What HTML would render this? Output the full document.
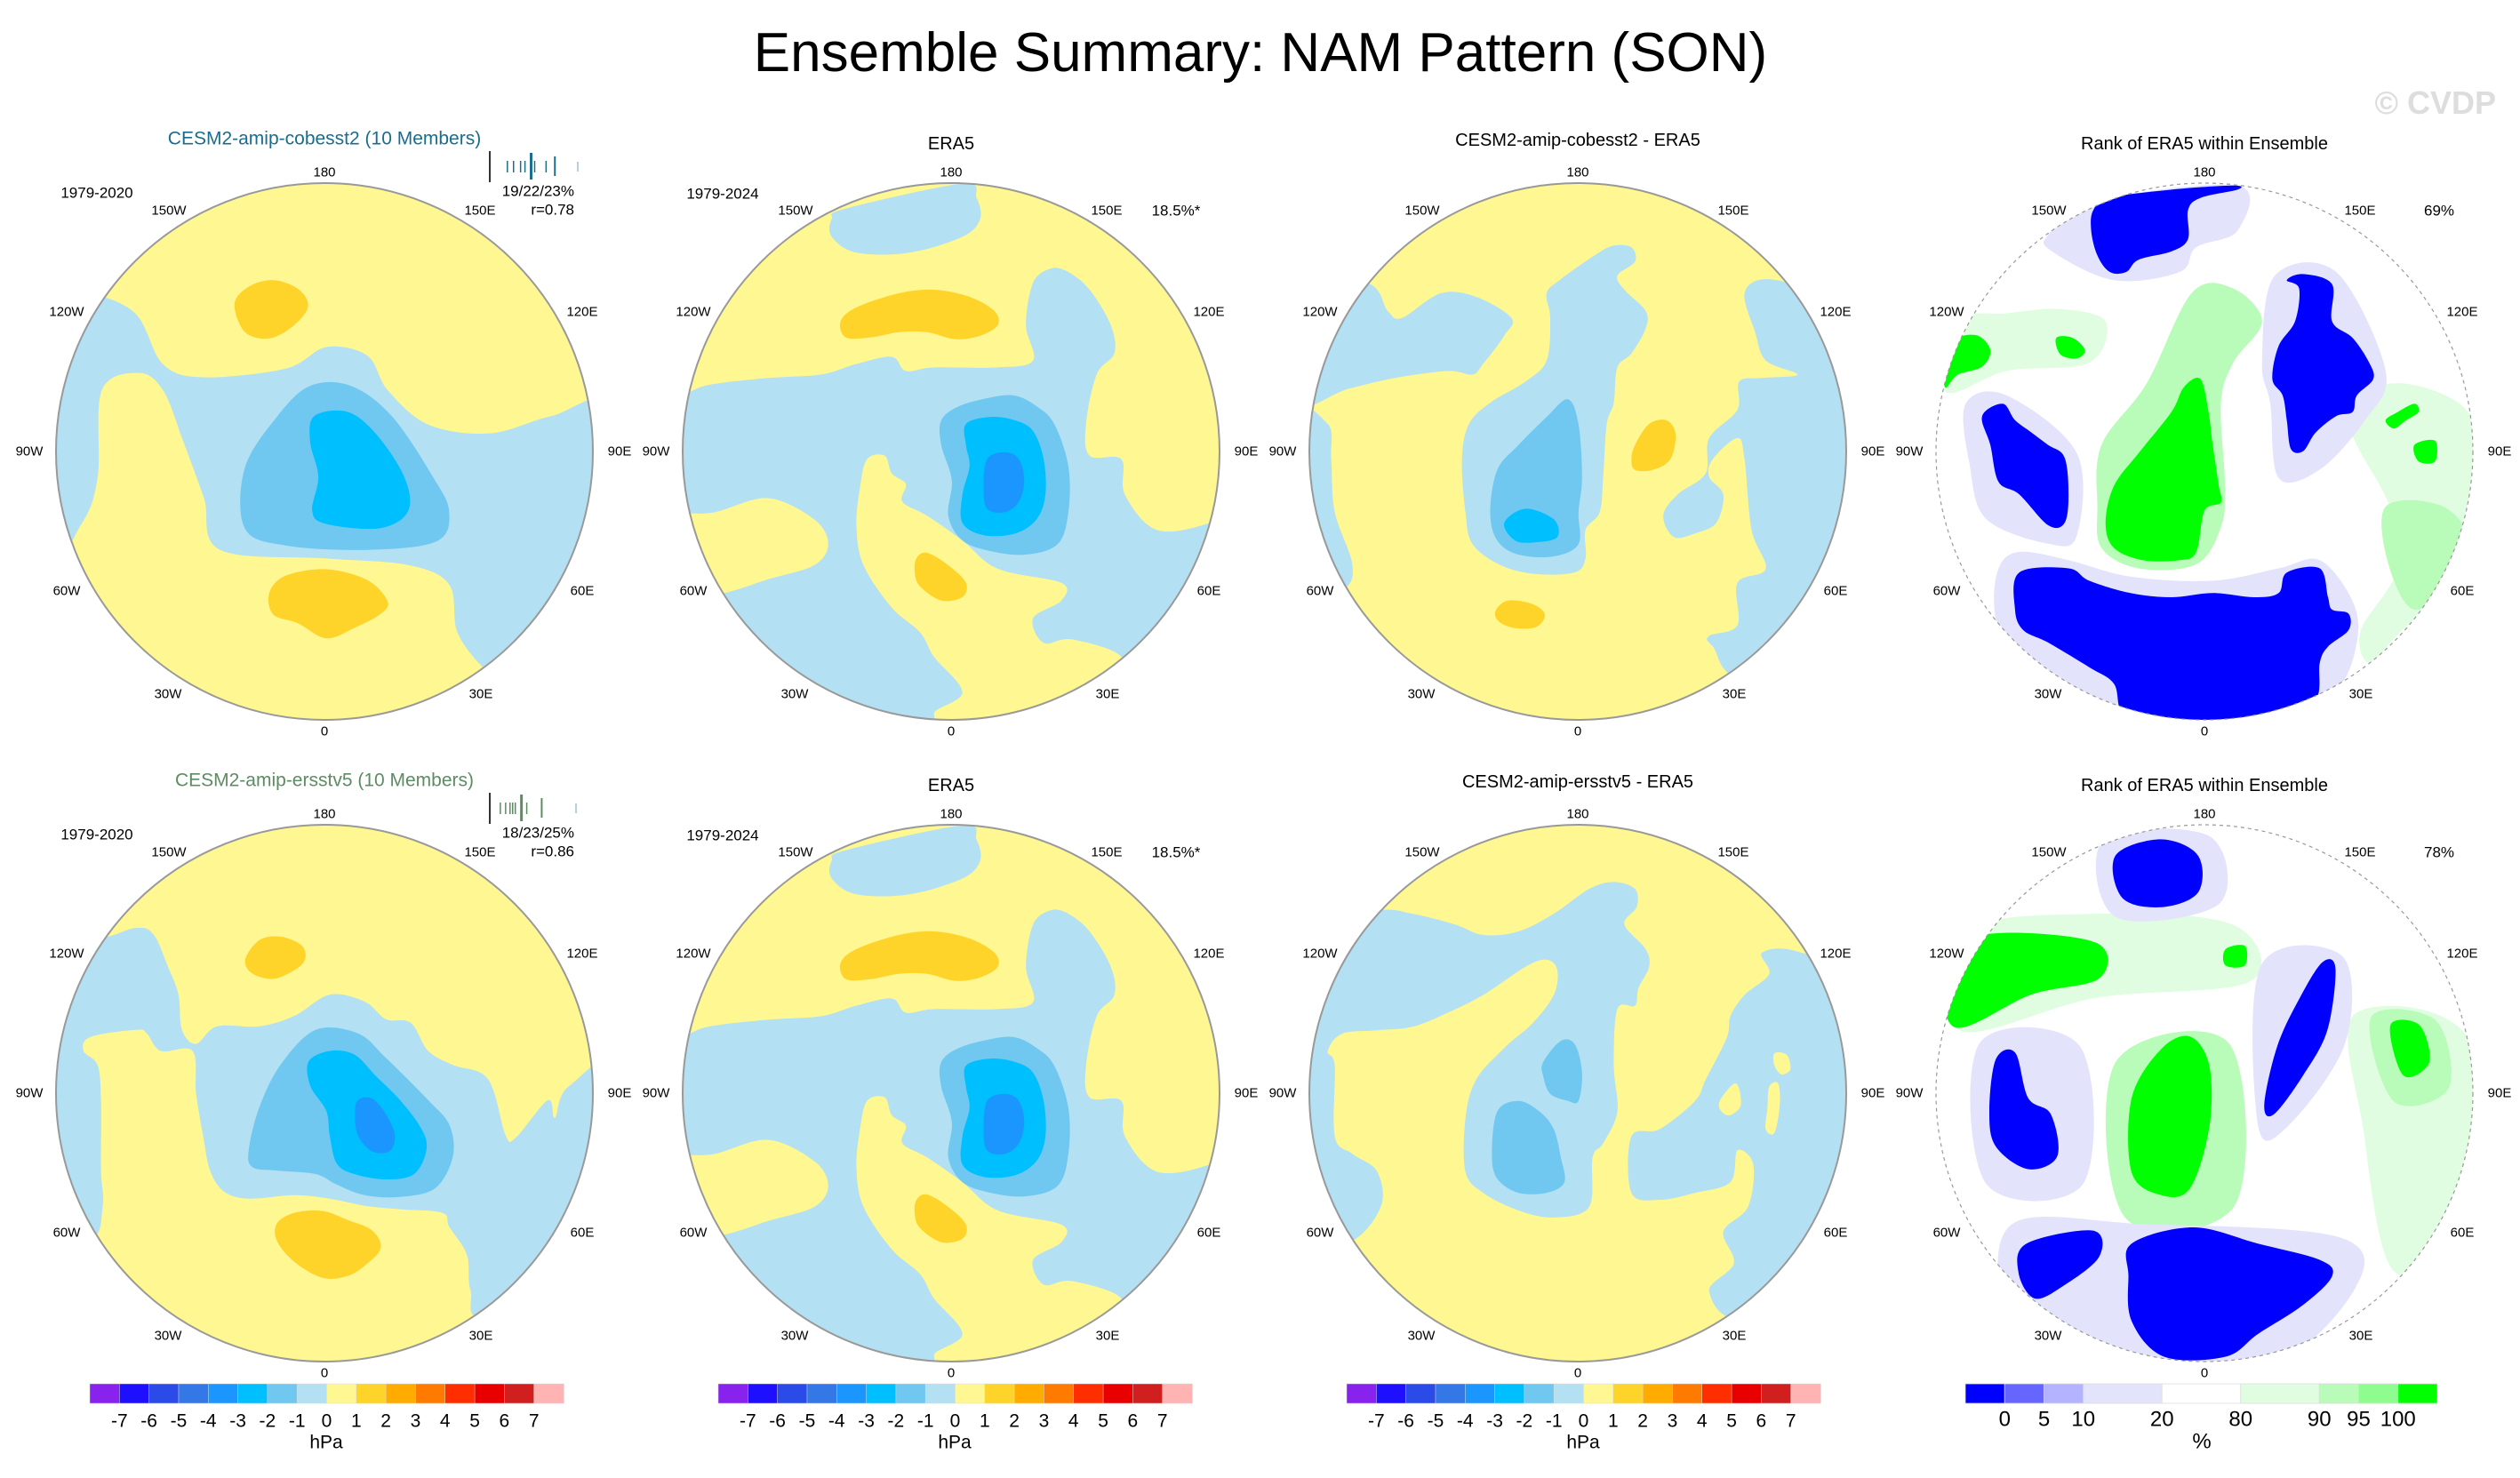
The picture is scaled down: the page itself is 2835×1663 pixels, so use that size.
<!DOCTYPE html>
<html><head><meta charset="utf-8">
<style>
html,body{margin:0;padding:0;background:#fff;}
svg{display:block;font-family:"Liberation Sans",Arial,sans-serif;}
</style></head>
<body>
<svg id="fig" width="2835" height="1663" viewBox="0 0 2835 1663" xmlns="http://www.w3.org/2000/svg">
<text x="1418" y="80" text-anchor="middle" font-size="62" fill="#000">Ensemble Summary: NAM Pattern (SON)</text>
<text x="2808" y="128" text-anchor="end" font-size="36" fill="#dddddd" font-weight="bold">© CVDP</text>
</svg>
<script>
// ---- colorbar data ----
const namLevels = [-7,-6,-5,-4,-3,-2,-1,0,1,2,3,4,5,6,7];
const namColors = ['#8a22ee','#1e0fff','#2b4be8','#3478e8','#1c96ff','#00bfff','#70c8f0','#b3e0f3','#fff791','#ffd42a','#ffab00','#ff7a00','#ff2e00','#e80000','#d11e1e','#ffb3b3'];
const rankLevels = [0,5,10,20,80,90,95,100];
const rankColors = ['#0000ff','#6666ff','#b3b3ff','#e3e3fb','#ffffff','#e1fde1','#b9fbb9','#8ffc8f','#00ff00'];
const rankWidths = [1,1,1,2,2,2,1,1,1];
// ---- member spread ticks (relative position 0..1 on spread axis) ----
const members1 = [0.20,0.27,0.35,0.40,0.51,0.64];
const members2 = [0.12,0.18,0.23,0.26,0.29,0.42];
const obs1 = 0.0, mean1 = 0.47, tall1 = 0.74, far1 = 1.0;
const obs2 = 0.0, mean2 = 0.36, tall2 = 0.59, far2 = 0.98;

const NS='http://www.w3.org/2000/svg';
const svg=document.getElementById('fig');
function el(tag,attrs,parent){const e=document.createElementNS(NS,tag);for(const k in attrs)e.setAttribute(k,attrs[k]);(parent||svg).appendChild(e);return e;}
function txt(str,x,y,size,anchor,fill,parent){const t=el('text',{x:x,y:y,'font-size':size,'text-anchor':anchor||'middle',fill:fill||'#000','dominant-baseline':'central'},parent);t.textContent=str;return t;}

const R=302;
const colX=[365,1070,1775,2480];
const rowY=[508,1230];

function smooth(pts){
  const n=pts.length;let d='M'+pts[0][0].toFixed(1)+','+pts[0][1].toFixed(1);
  for(let i=0;i<n;i++){const p0=pts[(i-1+n)%n],p1=pts[i],p2=pts[(i+1)%n],p3=pts[(i+2)%n];
    const c1=[p1[0]+(p2[0]-p0[0])/6,p1[1]+(p2[1]-p0[1])/6],c2=[p2[0]-(p3[0]-p1[0])/6,p2[1]-(p3[1]-p1[1])/6];
    d+='C'+c1[0].toFixed(1)+','+c1[1].toFixed(1)+' '+c2[0].toFixed(1)+','+c2[1].toFixed(1)+' '+p2[0].toFixed(1)+','+p2[1].toFixed(1);}
  return d+'Z';
}
const LB='#b3e0f3',MB='#70c8f0',BB='#00bfff',DB='#1c96ff',YL='#fff791',OR='#ffd42a';
const LV='#e3e3fb',G1='#e1fde1',G2='#b9fbb9',G3='#00ff00',BL='#0000ff';

const era5={ref:{cx:768,cy:778,rx:760,ry:760},bg:LB,layers:[
 [YL,[[-100,620],[0,620],[80,590],[250,570],[400,560],[500,530],[600,510],[640,550],[720,540],[900,540],[1000,520],[980,420],[1000,300],[1050,260],[1100,270],[1160,320],[1220,420],[1230,500],[1180,560],[1150,700],[1160,790],[1250,800],[1260,900],[1350,1000],[1500,980],[1650,900],[1650,-100],[-100,-100]]],
 [YL,[[-50,980],[100,950],[250,910],[380,970],[420,1040],[380,1100],[250,1140],[120,1180],[-50,1200]]],
 [YL,[[530,800],[580,790],[600,840],[640,870],[630,920],[700,960],[800,1030],[900,1110],[1080,1150],[1080,1200],[1000,1250],[1030,1320],[1110,1310],[1250,1360],[1200,1450],[800,1560],[720,1520],[800,1460],[720,1360],[680,1290],[600,1220],[520,1100],[500,990],[510,880]]],
 [LB,[[430,120],[470,90],[800,20],[840,60],[850,120],[800,170],[650,215],[500,215],[430,170]]],
 [OR,[[455,410],[500,370],[620,330],[720,320],[820,340],[890,380],[900,420],[850,450],[780,460],[700,440],[620,440],[540,455],[470,455]]],
 [OR,[[670,1080],[700,1065],[760,1100],[810,1150],[800,1190],[740,1200],[680,1160],[665,1120]]],
 [MB,[[740,690],[790,650],[880,625],[950,620],[1010,650],[1060,700],[1100,820],[1100,950],[1070,1040],[980,1070],[880,1060],[800,1030],[760,960],[770,860],[740,760]]],
 [BB,[[810,700],[880,680],[950,690],[1000,720],[1030,800],[1035,900],[1010,970],[950,1010],[860,1015],[800,980],[800,900],[820,820],[810,760]]],
 [DB,[[870,800],[920,780],[960,800],[975,860],[960,920],[920,950],[870,940],[860,880]]]
]};

const panels=[
 {c:0,r:0,name:'cobesst2-ensemble-map',ref:{cx:795,cy:842,rx:657,ry:622},bg:YL,layers:[
  [LB,[[200,470],[330,520],[400,640],[500,670],[700,650],[800,600],[900,620],[950,700],[1050,780],[1200,800],[1350,760],[1500,740],[1500,1100],[1250,1400],[1180,1340],[1120,1260],[1100,1150],[1000,1105],[800,1090],[540,1070],[500,950],[450,820],[400,700],[340,660],[250,700],[240,900],[200,1010],[100,1100],[100,470]]],
  [MB,[[600,880],[680,760],[760,690],[860,690],[960,760],[1060,900],[1100,980],[1070,1050],[900,1070],[700,1060],[600,1020]]],
  [BB,[[770,760],[850,750],[920,800],[990,900],[1000,980],[930,1020],[800,1010],[765,980],[780,900],[760,820]]],
  [OR,[[575,500],[610,460],[670,445],[730,465],[755,505],[720,550],[660,580],[600,565]]],
  [OR,[[660,1170],[700,1130],[800,1115],[900,1140],[950,1190],[930,1220],[870,1250],[800,1275],[730,1240],[670,1220]]]
 ]},
 {c:1,r:0,name:'era5-map-top',data:era5},
 {c:2,r:0,name:'cobesst2-minus-era5-map',ref:{cx:768,cy:778,rx:760,ry:760},bg:YL,layers:[
  [LB,[[-50,300],[170,300],[230,380],[270,400],[380,330],[480,340],[580,400],[560,450],[500,530],[470,560],[400,550],[250,570],[120,600],[-50,640]]],
  [LB,[[680,330],[720,290],[820,220],[870,195],[920,200],[930,240],[880,280],[900,320],[960,380],[960,430],[920,500],[880,540],[870,640],[850,700],[840,850],[830,950],[790,1000],[790,1080],[760,1120],[650,1125],[550,1100],[470,1040],[450,950],[440,800],[460,700],[520,640],[620,580],[680,520],[690,400]]],
  [LB,[[-50,680],[60,700],[70,800],[80,950],[130,1100],[100,1170],[-50,1200]]],
  [LB,[[1240,330],[1300,290],[1420,330],[1650,500],[1650,1300],[1250,1420],[1150,1330],[1140,1300],[1220,1270],[1220,1150],[1300,1110],[1260,1000],[1240,800],[1220,740],[1150,800],[1140,850],[1180,900],[1160,980],[1100,1010],[1040,1020],[1010,960],[1050,900],[1130,840],[1140,740],[1220,660],[1225,580],[1290,570],[1390,560],[1300,520],[1270,440]]],
  [MB,[[740,630],[770,700],[780,850],[770,950],[770,1040],[700,1075],[600,1070],[540,1030],[520,950],[540,830],[600,760],[680,680]]],
  [BB,[[560,980],[620,940],[700,970],[710,1020],[650,1035],[590,1030]]],
  [OR,[[930,760],[970,700],[1020,690],[1045,730],[1030,800],[980,830],[930,830],[920,800]]],
  [OR,[[535,1230],[570,1200],[640,1210],[675,1240],[650,1275],[590,1278],[545,1260]]]
 ]},
 {c:3,r:0,name:'rank-map-top',rank:true,ref:{cx:780,cy:816,rx:652,ry:652},bg:'#ffffff',layers:[
  [G1,[[1120,700],[1250,650],[1400,700],[1440,800],[1430,1000],[1360,1150],[1250,1260],[1180,1330],[1160,1250],[1250,1100],[1230,950],[1150,800]]],
  [G1,[[140,500],[300,480],[430,470],[540,500],[500,600],[300,620],[150,670]]],
  [G2,[[1220,950],[1360,950],[1420,1050],[1300,1200],[1230,1100]]],
  [G2,[[530,800],[640,650],[750,430],[850,420],[920,500],[850,600],[820,700],[830,900],[820,1000],[760,1090],[620,1100],[530,1050],[520,950]]],
  [LV,[[400,290],[500,210],[860,170],[860,280],[760,320],[720,380],[560,400],[410,330]]],
  [LV,[[950,390],[1100,380],[1220,620],[1170,740],[1060,860],[960,880],[940,700],[920,600]]],
  [LV,[[200,700],[300,680],[470,820],[470,1020],[400,1040],[250,980],[210,850]]],
  [LV,[[280,1100],[330,1060],[450,1080],[600,1120],[800,1130],[960,1100],[1060,1080],[1140,1180],[1150,1280],[1100,1400],[960,1500],[600,1490],[420,1420],[300,1300],[270,1200]]],
  [BL,[[510,230],[550,200],[700,180],[850,170],[860,180],[770,200],[740,230],[740,300],[700,330],[620,350],[590,380],[550,380],[520,340],[505,280]]],
  [BL,[[980,400],[1020,385],[1090,410],[1090,500],[1140,540],[1180,600],[1190,640],[1150,680],[1140,720],[1100,730],[1050,770],[1020,815],[990,810],[980,740],[970,680],[945,640],[960,560],[1000,500],[1010,420]]],
  [BL,[[240,730],[290,700],[320,740],[360,770],[400,800],[440,830],[450,920],[440,990],[400,995],[330,920],[280,890],[260,800]]],
  [BL,[[330,1110],[450,1100],[500,1130],[600,1160],[700,1170],[800,1160],[900,1170],[960,1160],[980,1110],[1060,1100],[1080,1170],[1090,1200],[1130,1210],[1130,1250],[1080,1290],[1060,1330],[1050,1420],[960,1470],[800,1485],[650,1475],[580,1450],[560,1380],[500,1340],[400,1280],[340,1250],[320,1200]]],
  [G3,[[540,990],[560,900],[620,820],[700,720],[730,660],[770,640],[790,720],[800,800],[815,900],[820,940],[780,960],[760,1060],[720,1080],[630,1080],[560,1050]]],
  [G3,[[150,580],[180,540],[230,535],[260,570],[240,610],[180,630],[150,660]]],
  [G3,[[420,540],[460,540],[490,570],[470,590],[430,580]]],
  [G3,[[1220,740],[1250,720],[1290,700],[1300,720],[1270,740],[1240,760]]],
  [G3,[[1290,800],[1340,790],[1340,840],[1300,840]]]
 ]},
 {c:0,r:1,name:'ersstv5-ensemble-map',ref:{cx:785,cy:780,rx:763,ry:763},bg:YL,layers:[
  [LB,[[130,340],[250,310],[300,330],[340,420],[370,500],[380,600],[420,640],[480,590],[600,590],[700,560],[800,500],[900,520],[960,570],[1030,580],[1080,660],[1150,700],[1250,740],[1300,900],[1330,905],[1420,800],[1440,850],[1480,760],[1650,700],[1650,1300],[1250,1420],[1200,1340],[1190,1240],[1140,1160],[1120,1120],[1000,1110],[900,1100],[800,1080],[700,1070],[570,1080],[500,1060],[460,1000],[440,900],[420,780],[410,660],[320,660],[280,610],[250,600],[120,620],[100,660],[140,700],[150,800],[150,1000],[155,1100],[120,1200],[-50,1200],[-50,300]]],
  [MB,[[570,940],[600,820],[660,700],[760,600],[880,610],[960,680],[1080,800],[1140,870],[1150,960],[1100,1050],[1000,1075],[900,1070],[820,1040],[760,1010],[650,1000],[580,990]]],
  [BB,[[740,690],[800,660],[870,670],[930,730],[1000,800],[1060,880],[1075,940],[1040,1010],[960,1025],[870,1010],[820,980],[800,900],[790,830],[745,760]]],
  [DB,[[880,800],[920,795],[960,840],[985,900],[970,945],[920,945],[880,900],[872,840]]],
  [OR,[[560,400],[600,345],[660,335],[720,360],[730,400],[700,430],[640,455],[580,440]]],
  [OR,[[650,1150],[700,1120],[780,1115],[850,1140],[920,1170],[945,1220],[900,1270],[850,1300],[780,1305],[700,1260],[650,1200]]]
 ]},
 {c:1,r:1,name:'era5-map-bottom',data:era5},
 {c:2,r:1,name:'ersstv5-minus-era5-map',ref:{cx:768,cy:778,rx:760,ry:760},bg:YL,layers:[
  [LB,[[-50,300],[200,260],[300,270],[420,300],[500,330],[600,320],[700,270],[800,200],[870,180],[930,200],[935,250],[900,300],[960,370],[970,420],[940,480],[930,530],[880,540],[870,700],[880,830],[840,920],[810,960],[800,1100],[700,1130],[600,1110],[500,1060],[450,1000],[450,850],[480,740],[560,650],[640,580],[700,500],[710,430],[680,400],[620,420],[500,500],[400,550],[300,590],[200,600],[100,610],[60,660],[80,700],[80,900],[130,950],[200,1000],[210,1100],[120,1200],[-50,1200]]],
  [LB,[[1290,380],[1400,380],[1650,500],[1650,1300],[1250,1420],[1140,1340],[1210,1260],[1180,1170],[1250,1100],[1265,980],[1220,940],[1200,1030],[1100,1060],[1000,1080],[920,1060],[920,900],[1000,880],[1100,800],[1130,740],[1190,620],[1200,560],[1240,500],[1310,440]]],
  [YL,[[1325,665],[1360,670],[1370,710],[1345,725],[1325,700]]],
  [YL,[[1310,760],[1335,750],[1340,810],[1325,890],[1300,880],[1305,820]]],
  [YL,[[1170,800],[1215,750],[1230,810],[1200,840],[1175,830]]],
  [MB,[[670,690],[720,630],[760,640],[780,720],[770,800],[740,800],[690,780],[670,730]]],
  [MB,[[540,830],[600,800],[660,830],[700,880],[720,960],[730,1030],[680,1060],[600,1060],[540,1020],[525,950]]]
 ]},
 {c:3,r:1,name:'rank-map-bottom',rank:true,ref:{cx:1367,cy:679,rx:166,ry:166},bg:'#ffffff',layers:[
  [G1,[[1460,630],[1530,645],[1535,760],[1485,790],[1465,700]]],
  [G1,[[1215,580],[1300,568],[1385,575],[1395,610],[1300,620],[1215,640]]],
  [G2,[[1312,660],[1382,648],[1386,748],[1318,756]]],
  [G2,[[1470,632],[1510,634],[1518,676],[1484,684]]],
  [LV,[[1305,522],[1370,520],[1376,562],[1312,570]]],
  [LV,[[1228,648],[1290,650],[1292,735],[1232,735]]],
  [LV,[[1248,760],[1330,760],[1450,768],[1460,800],[1405,848],[1305,846],[1248,818]]],
  [LV,[[1402,600],[1452,594],[1454,648],[1418,700],[1400,698]]],
  [BL,[[1312,532],[1340,522],[1363,532],[1363,555],[1340,564],[1316,558]]],
  [BL,[[1440,598],[1448,602],[1443,640],[1428,668],[1410,692],[1404,686],[1412,650],[1426,620]]],
  [BL,[[1238,658],[1250,654],[1258,682],[1272,692],[1276,718],[1258,726],[1238,712],[1234,690]]],
  [BL,[[1257,772],[1298,764],[1302,780],[1280,798],[1262,806],[1252,790]]],
  [BL,[[1322,772],[1360,762],[1400,772],[1438,782],[1446,792],[1428,810],[1400,828],[1380,842],[1342,842],[1322,820],[1320,792]]],
  [G3,[[1208,592],[1240,580],[1300,586],[1302,608],[1260,618],[1212,638]]],
  [G3,[[1322,682],[1340,652],[1358,644],[1370,662],[1370,700],[1358,738],[1340,742],[1322,728]]],
  [G3,[[1482,637],[1500,637],[1506,660],[1490,668]]],
  [G3,[[1380,590],[1392,588],[1392,600],[1380,600]]]
 ]}
];

const defs=el('defs',{});
panels.forEach((p,i)=>{
  const cx=colX[p.c],cy=rowY[p.r];
  const d=p.data||p;
  const cp=el('clipPath',{id:'clip'+i},defs);
  el('circle',{cx:cx,cy:cy,r:R},cp);
  const g=el('g',{'clip-path':'url(#clip'+i+')'});
  
  
  el('circle',{cx:cx,cy:cy,r:R,fill:d.bg},g);
  const ref=d.ref;
  d.layers.forEach(L=>{
    const pts=L[1].map(q=>[cx+(q[0]-ref.cx)/ref.rx*R, cy+(q[1]-ref.cy)/ref.ry*R]);
    const path=el('path',{d:smooth(pts),fill:L[0]},g);
    
    
  });
  const ring=el('circle',{cx:cx,cy:cy,r:R,fill:'none',stroke:'#999',
    'stroke-width':p.rank?1.2:2,'stroke-dasharray':p.rank?'4 4':'none'});
  
  
  const labs=[['180',0,-314],['150W',-175,-271],['150E',175,-271],['120W',-290,-157],['120E',290,-157],['90W',-332,0],['90E',332,0],['60W',-290,157],['60E',290,157],['30W',-176,273],['30E',176,273],['0',0,315]];
  labs.forEach(l=>{const t=txt(l[0],cx+l[1],cy+l[2],15);
    
    });
});

const titles=[
 ['CESM2-amip-cobesst2 (10 Members)',0,0,156,'#1a6d8e'],['ERA5',1,0,162,'#000'],['CESM2-amip-cobesst2 - ERA5',2,0,158,'#000'],['Rank of ERA5 within Ensemble',3,0,162,'#000'],
 ['CESM2-amip-ersstv5 (10 Members)',0,1,878,'#5e8c62'],['ERA5',1,1,884,'#000'],['CESM2-amip-ersstv5 - ERA5',2,1,880,'#000'],['Rank of ERA5 within Ensemble',3,1,884,'#000']];
titles.forEach(t=>{const e=txt(t[0],colX[t[1]],t[3],t[1]==0?21:20,'middle',t[4]);
  
  });

for(let r=0;r<2;r++){
  const oy=rowY[r]-508;
  const y1=txt('1979-2020',colX[0]-256,217+oy,17);
  
  
  const y2=txt('1979-2024',colX[1]-257,218+oy,17);
  
  
  const pc=txt('18.5%*',colX[1]+253,237+oy,17);
  
  
  const rk=txt(r==0?'69%':'78%',colX[3]+264,237+oy,17);
  
  
  const st=txt(r==0?'19/22/23%':'18/23/25%',646,215+oy,17,'end');
  
  
  const rc=txt(r==0?'r=0.78':'r=0.86',646,236+oy,17,'end');
  
  
  const col=r==0?'#1a6d8e':'#5e8c62';
  const mem=r==0?members1:members2;
  const xs=v=>551+v*99;
  const obs=r==0?obs1:obs2,mean=r==0?mean1:mean2,tall=r==0?tall1:tall2,far=r==0?far1:far2;
  let e=el('line',{x1:xs(obs),x2:xs(obs),y1:170+oy,y2:205+oy,stroke:'#333','stroke-width':2});
  
  
  mem.forEach(v=>{const m=el('line',{x1:xs(v),x2:xs(v),y1:181+oy,y2:194+oy,stroke:col,'stroke-width':1.5});
    
    });
  e=el('line',{x1:xs(mean),x2:xs(mean),y1:172+oy,y2:202+oy,stroke:col,'stroke-width':3});
  
  
  e=el('line',{x1:xs(tall),x2:xs(tall),y1:176+oy,y2:198+oy,stroke:col,'stroke-width':2});
  
  
  e=el('line',{x1:xs(far),x2:xs(far),y1:182+oy,y2:193+oy,stroke:'#9fc3cf','stroke-width':1.5});
  
  
}

[101,808,1515].forEach((x0,ci)=>{
  const w=533/namColors.length;
  const g=el('g',{});
  
  
  namColors.forEach((c,i)=>{const b=el('rect',{x:x0+i*w,y:1557,width:w+0.5,height:22,fill:c,stroke:'#ddd','stroke-width':0.5},g);
    
    });
  namLevels.forEach((v,i)=>{const t=txt(String(v),x0+(i+1)*w,1599,21,'middle','#000',g);
    
    });
  const u=txt('hPa',x0+266,1623,21,'middle','#000',g);
  
  
});
(function(){
  const x0=2211,total=rankWidths.reduce((a,b)=>a+b,0),unit=531/total;
  const g=el('g',{});
  
  
  let x=x0;const bounds=[];
  rankColors.forEach((c,i)=>{const w=rankWidths[i]*unit;
    const b=el('rect',{x:x,y:1557,width:w,height:22,fill:c,stroke:'#ddd','stroke-width':0.8},g);
    
    
    x+=w;bounds.push(x);});
  rankLevels.forEach((v,i)=>{const t=txt(String(v),bounds[i],1597,24,'middle','#000',g);
    
    });
  const u=txt('%',x0+266,1622,24,'middle','#000',g);
  
  
})();
</script>
</body></html>
